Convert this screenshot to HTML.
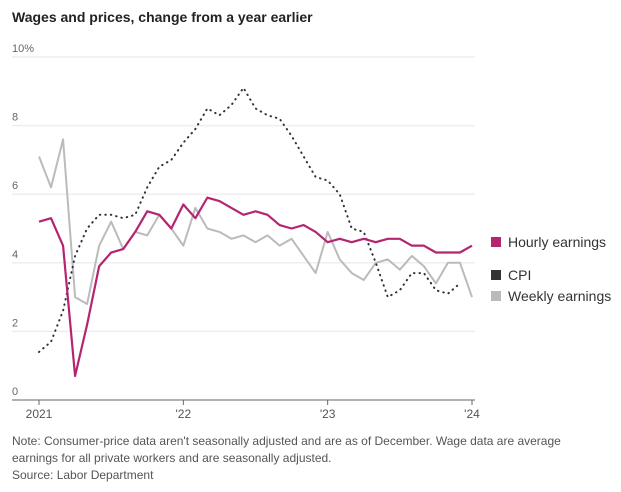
<!DOCTYPE html>
<html><head><meta charset="utf-8"><style>
body{margin:0;width:621px;height:492px;background:#fff;font-family:"Liberation Sans",sans-serif;overflow:hidden;position:relative}
.t{position:absolute;left:12px;top:9px;font-size:14px;font-weight:bold;color:#222}
.n{position:absolute;left:12px;top:433px;font-size:12px;line-height:17px;color:#555;width:585px}
</style></head><body>
<div class="t">Wages and prices, change from a year earlier</div>
<svg id="c" width="621" height="430" style="position:absolute;left:0;top:0"></svg>
<div class="n">Note: Consumer-price data aren't seasonally adjusted and are as of December. Wage data are average earnings for all private workers and are seasonally adjusted.<br>Source: Labor Department</div>
<script>
const yTicks=[0,2,4,6,8,10];
const xTickLabels=["2021","'22","'23","'24"];
const hourly=[5.2,5.3,4.5,0.7,2.2,3.9,4.3,4.4,4.9,5.5,5.4,5.0,5.7,5.3,5.9,5.8,5.6,5.4,5.5,5.4,5.1,5.0,5.1,4.9,4.6,4.7,4.6,4.7,4.6,4.7,4.7,4.5,4.5,4.3,4.3,4.3,4.5];
const weekly=[7.1,6.2,7.6,3.0,2.8,4.5,5.2,4.4,4.9,4.8,5.4,5.0,4.5,5.6,5.0,4.9,4.7,4.8,4.6,4.8,4.5,4.7,4.2,3.7,4.9,4.1,3.7,3.5,4.0,4.1,3.8,4.2,3.9,3.4,4.0,4.0,3.0];
const cpi=[1.4,1.7,2.6,4.2,5.0,5.4,5.4,5.3,5.4,6.2,6.8,7.0,7.5,7.9,8.5,8.3,8.6,9.1,8.5,8.3,8.2,7.7,7.1,6.5,6.4,6.0,5.0,4.9,4.0,3.0,3.2,3.7,3.7,3.2,3.1,3.4];
const legend=[["Hourly earnings","#b5256f",243],["CPI","#333",276],["Weekly earnings","#bbb",297]];
const svg=document.getElementById('c'),NS="http://www.w3.org/2000/svg";
const x=i=>39+i*(433/36), y=v=>400-v*34.3;
function el(t,a){const e=document.createElementNS(NS,t);for(const k in a)e.setAttribute(k,a[k]);svg.appendChild(e);return e;}
yTicks.forEach(v=>{
 if(v>0){const g=el('line',{x1:12,x2:475,y1:y(v),y2:y(v),stroke:'#eee','stroke-width':1.5});
 
 }
 const t=el('text',{x:12,y:y(v)-5,'font-size':11,fill:'#666'});t.textContent=v===10?'10%':v;
 
 
});
const ax=el('line',{x1:12,x2:475,y1:400,y2:400,stroke:'#999','stroke-width':1.5});


xTickLabels.forEach((l,i)=>{
 const xx=x(i*12);el('line',{x1:xx,x2:xx,y1:400,y2:405,stroke:'#666'});
 const t=el('text',{x:xx,y:418,'font-size':12,fill:'#555','text-anchor':'middle'});t.textContent=l;
 
 
});
function line(d,st,name){const p=el('polyline',Object.assign({points:d.map((v,i)=>x(i)+','+y(v)).join(' '),fill:'none','stroke-linejoin':'round'},st));
 
 }
line(weekly,{stroke:'#bbb','stroke-width':2},'weekly-earnings-line');
line(cpi,{stroke:'#333','stroke-width':2,'stroke-dasharray':'0.5 5','stroke-linecap':'round'},'cpi-line');
line(hourly,{stroke:'#b5256f','stroke-width':2.2},'hourly-earnings-line');
legend.forEach(([l,c,yy])=>{
 el('rect',{x:491,y:yy-6,width:10,height:10,fill:c});
 const t=el('text',{x:508,y:yy+4,'font-size':14,fill:'#333'});t.textContent=l;
 
 
});
</script>
</body></html>
